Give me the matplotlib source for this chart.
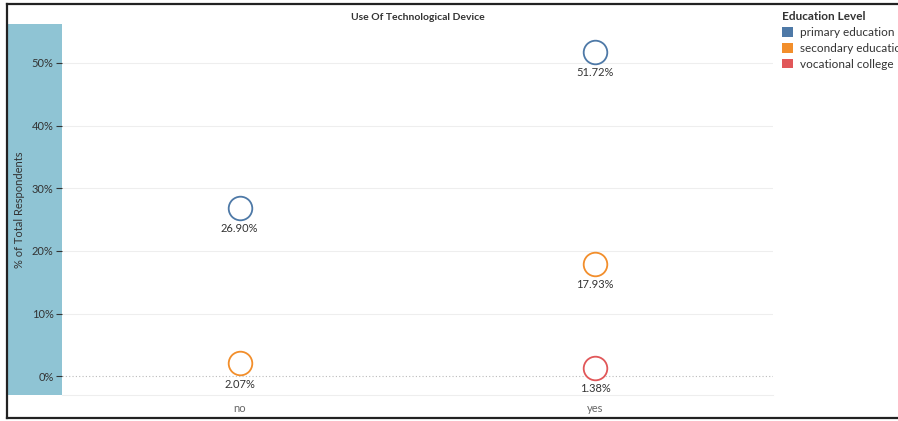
#! /usr/bin/env python3

import matplotlib.pyplot as plt
from matplotlib.lines import Line2D
from matplotlib.patches import Rectangle, Patch

plt.rcParams['font.family'] = ['Lato', 'DejaVu Sans']

categories = ["no", "yes"]
levels = ["primary education", "secondary education", "vocational college"]
colors = ["#4e79a7", "#f28e2b", "#e15759"]
# (category, level, value %)
points_cat = ["no", "no", "yes", "yes", "yes"]
points_level = ["primary education", "secondary education", "primary education", "secondary education", "vocational college"]
points_val = [26.90, 2.07, 51.72, 17.93, 1.38]
y_ticks = [0, 10, 20, 30, 40, 50]

W, H = 898, 421
fig = plt.figure(figsize=(W / 100, H / 100), dpi=100)


def fx(px):
	return px / W


def fy(py):
	return 1 - py / H


ax = fig.add_axes([fx(62), fy(395), fx(773) - fx(62), fy(24) - fy(395)])
ax.set_xlim(-0.5, 1.5)
ax.set_ylim(-3.0, 56.2)

# blue band behind y axis
fig.patches.append(Rectangle((fx(8), fy(395)), fx(62) - fx(8), fy(24) - fy(395),
	transform=fig.transFigure, facecolor="#8fc4d4", edgecolor="none", zorder=-5))

# outer frame (left, top, bottom)
for xs, ys in [((fx(7), fx(7)), (fy(4), fy(418))), ((fx(7), 1), (fy(4), fy(4))), ((fx(7), 1), (fy(418), fy(418)))]:
	fig.lines.append(Line2D(xs, ys, transform=fig.transFigure, color="#222222", linewidth=1.6))

for t in y_ticks[1:]:
	ax.axhline(t, color="#eeeeee", linewidth=0.8, zorder=0)
ax.axhline(0, color="#bbbbbb", linewidth=0.8, linestyle=(0, (1, 2)), zorder=0)

for cat, lev, val in zip(points_cat, points_level, points_val):
	x = categories.index(cat)
	c = colors[levels.index(lev)]
	ax.plot(x, val, marker="o", markersize=17, markerfacecolor="white", markeredgecolor=c, markeredgewidth=1.3, linestyle="none", zorder=3)
	ax.annotate("%.2f%%" % val, (x, val), xytext=(0, -11), textcoords="offset points", ha="center", va="top", fontsize=8, color="#333333")

ax.set_xticks(range(len(categories)))
ax.set_xticklabels(categories, fontsize=8, color="#666666")
ax.set_yticks(y_ticks)
ax.set_yticklabels(["%d%%" % t for t in y_ticks], fontsize=8, color="#333333")
ax.tick_params(axis="y", length=4, width=0.8, color="#333333", pad=2)
ax.tick_params(axis="x", length=0, pad=6)
for side in ["top", "right", "left"]:
	ax.spines[side].set_visible(False)
ax.spines["bottom"].set_color("#eeeeee")
ax.spines["bottom"].set_linewidth(0.8)
ax.patch.set_alpha(0)

ax.set_title("Use Of Technological Device", fontsize=7.5, fontweight="bold", color="#333333", pad=3)
fig.text(fx(20), fy(210), "% of Total Respondents", rotation=90, ha="center", va="center", fontsize=8, color="#333333")

handles = [Patch(facecolor=c, edgecolor="none") for c in colors]
leg = fig.legend(handles, levels, loc="upper left", bbox_to_anchor=(fx(780), fy(9)), frameon=False,
	title="Education Level", fontsize=8.5, title_fontsize=8.5, handlelength=0.9, handleheight=0.9,
	handletextpad=0.6, labelspacing=0.4, borderaxespad=0, borderpad=0.2, alignment="left")
leg.get_title().set_fontweight("bold")
leg.get_title().set_color("#333333")
for t in leg.get_texts():
	t.set_color("#333333")

fig.savefig("out.png", dpi=100)
